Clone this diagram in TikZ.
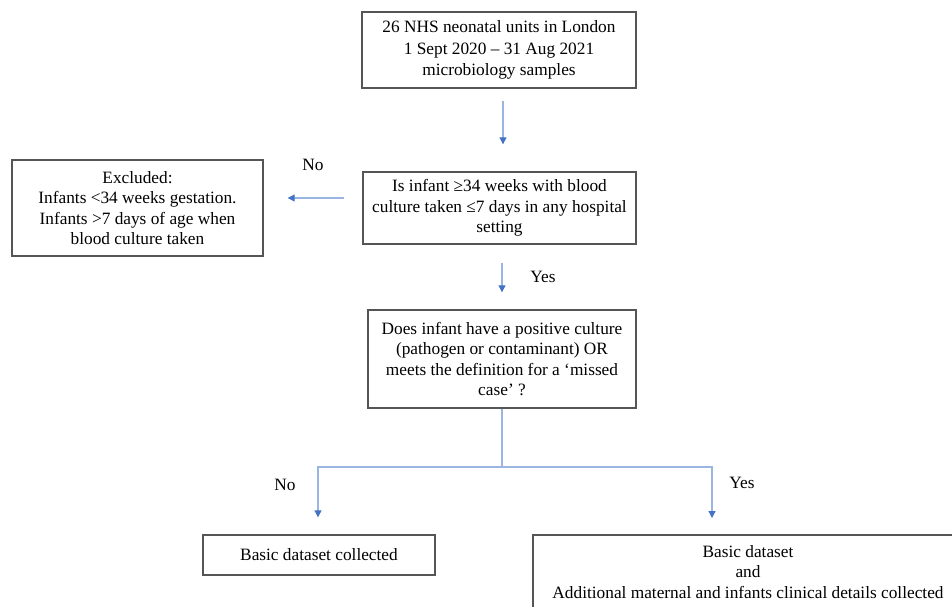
\documentclass[tikz,border=0pt]{standalone}
\usepackage{fontspec}
\setmainfont{Liberation Serif}
\usetikzlibrary{arrows.meta,calc}
\definecolor{boxline}{HTML}{555555}
\definecolor{arrline}{HTML}{9BB5E2}
\definecolor{arrhead}{HTML}{4472C4}
\tikzset{
  box/.style={draw=boxline, line width=1.4pt, fill=white, align=center, inner sep=2pt,
    font=\fontsize{17.3}{20.5}\selectfont},
  conn/.style={draw=arrline, line width=1.1pt},
  arr/.style={conn, -{Triangle[width=7pt,length=7pt,color=arrhead]}},
  lbl/.style={font=\fontsize{17.3}{20.5}\selectfont, inner sep=0pt}
}
\begin{document}
\begin{tikzpicture}[x=1pt,y=-1pt]
\useasboundingbox[fill=white] (0,0) rectangle (952,606);
\clip (0,0) rectangle (952,606);

\node[box, minimum width=274pt, minimum height=76pt, font=\fontsize{17.3}{21.5}\selectfont] (top) at (499,50)
  {26 NHS neonatal units in London\\1 Sept 2020 – 31 Aug 2021\\microbiology samples};
\node[box, minimum width=273pt, minimum height=72pt] (q1) at (499.5,208)
  {Is infant ≥34 weeks with blood\\culture taken ≤7 days in any hospital\\setting};
\node[box, minimum width=251pt, minimum height=96pt] (excl) at (137.5,208)
  {Excluded:\\Infants <34 weeks gestation.\\Infants >7 days of age when\\blood culture taken};
\node[box, minimum width=268pt, minimum height=98pt] (q2) at (502,359)
  {Does infant have a positive culture\\(pathogen or contaminant) OR\\meets the definition for a ‘missed\\case’ ?};
\node[box, minimum width=232pt, minimum height=40pt] (basic) at (319,555)
  {Basic dataset collected};
\node[box, minimum width=430pt, minimum height=74pt] (full) at (748,572)
  {Basic dataset\\and\\Additional maternal and infants clinical details collected};

\coordinate (split) at (q2.south |- 0,467);
\coordinate (rtip) at (712,518);

\draw[arr, shorten <=12pt, shorten >=27pt] ([xshift=4pt]top.south) -- ([xshift=4pt]top.south |- q1.north);
\draw[arr, shorten <=18pt, shorten >=24pt] ([yshift=10pt]q1.west) -- ([yshift=10pt]q1.west -| excl.east);
\draw[arr, shorten <=18pt, shorten >=17pt] (q1.south -| q2.north) -- (q2.north);
\draw[conn] (q2.south) -- (split);
\draw[arr, shorten >=17pt] (split) -| ([xshift=-1pt]basic.north);
\draw[arr] (split) -| (rtip);

\node[lbl] (no1) at (313,165) {No};
\node[lbl] (yes1) at (543,277) {Yes};
\node[lbl] (no2) at (285,485) {No};
\node[lbl] (yes2) at (742,483) {Yes};
\end{tikzpicture}
\end{document}
